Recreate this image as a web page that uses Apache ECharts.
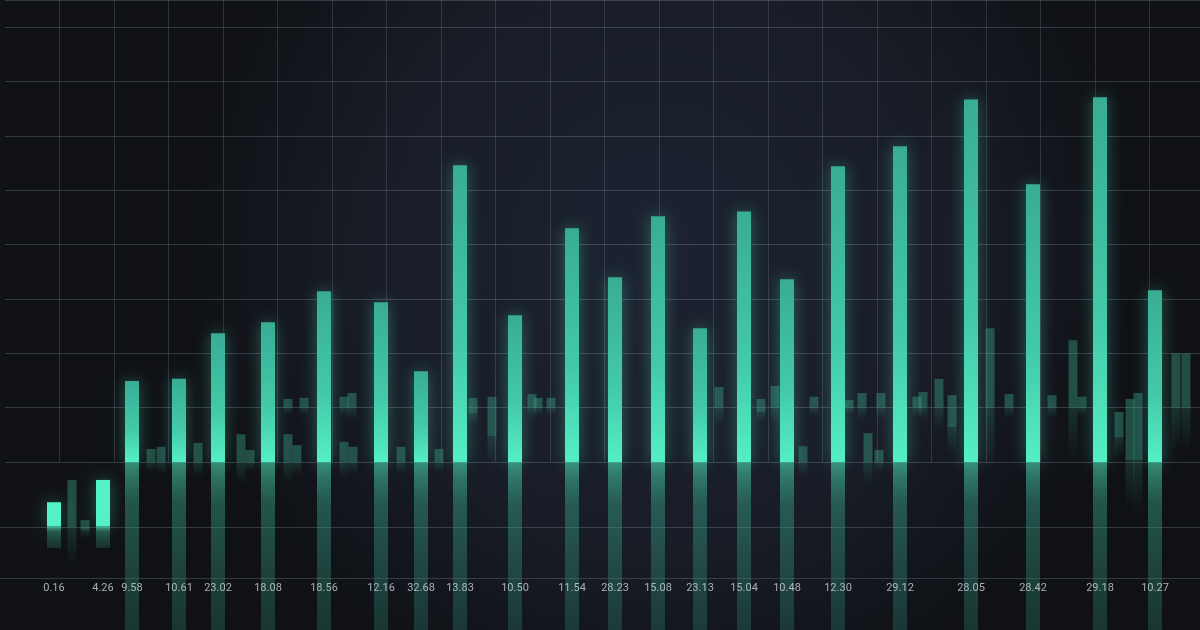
<!DOCTYPE html>
<html>
<head>
<meta charset="utf-8">
<script src="https://cdn.jsdelivr.net/npm/echarts@6/dist/echarts.min.js"></script>
<style>
  html, body { margin: 0; padding: 0; background: #12151b; }
  #chart { width: 1200px; height: 630px; }
</style>
</head>
<body>
<div id="chart"></div>
<script>
// main bars: position on the time axis, base value, top value, label
var barTime  = [4.9, 9.8, 12.7, 17.4, 21.3, 26.3, 31.9, 37.6, 41.6, 45.5, 51.0, 56.7,
                61.0, 65.3, 69.5, 73.9, 78.2, 83.3, 89.5, 96.6, 102.8, 109.5, 115.0];
var barBase  = [-1.18, -1.18, 0, 0, 0, 0, 0, 0, 0, 0, 0, 0,
                0, 0, 0, 0, 0, 0, 0, 0, 0, 0, 0];
var barValue = [-0.74, -0.33, 1.49, 1.53, 2.37, 2.57, 3.14, 2.94, 1.67, 5.46, 2.70, 4.30,
                3.40, 4.52, 2.46, 4.61, 3.36, 5.44, 5.81, 6.67, 5.11, 6.71, 3.16];
var barLabels = ['0.16', '4.26', '9.58', '10.61', '23.02', '18.08', '18.56', '12.16', '32.68', '13.83', '10.50', '11.54',
                 '28.23', '15.08', '23.13', '15.04', '10.48', '12.30', '29.12', '28.05', '28.42', '29.18', '10.27'];

// faint background bars: position, low, high
var dimTime = [6.7, 8.0, 14.6, 15.6, 19.3, 23.6, 24.5, 28.3, 29.2, 33.9, 34.8, 39.6, 43.4,
               79.8, 86.3, 87.4,
               28.3, 29.9, 33.9, 34.7, 46.8, 48.7, 52.7, 53.3, 54.6,
               71.4, 75.6, 77.0, 80.9, 84.4, 85.7, 87.6, 91.2, 91.8, 93.4, 94.7, 98.5,
               100.4, 104.7, 106.8, 107.7, 111.4, 112.5, 113.3, 117.1, 118.1];
var dimLow  = [-1.2, -1.25, 0, 0, 0, 0, 0, 0, 0, 0, 0, 0, 0,
               0, 0, 0,
               1, 1, 1, 1, 0.9, 0.48, 1, 1, 1,
               1, 0.92, 1, 1, 1, 1, 1, 1, 1, 1, 0.64, 1,
               1, 1, 1, 1, 0.46, 0.04, 0.04, 1, 1];
var dimHigh = [-0.33, -1.07, 0.24, 0.28, 0.35, 0.51, 0.22, 0.51, 0.31, 0.37, 0.28, 0.28, 0.24,
               0.29, 0.53, 0.22,
               1.16, 1.18, 1.20, 1.27, 1.18, 1.20, 1.25, 1.18, 1.18,
               1.38, 1.16, 1.40, 1.20, 1.14, 1.27, 1.27, 1.20, 1.29, 1.53, 1.23, 2.46,
               1.25, 1.23, 2.24, 1.20, 0.92, 1.16, 1.27, 2.00, 2.00];

var FLOOR = -3.1;     // reflections run down to the bottom edge
var LABEL_Y = -2.32;  // row of the time labels

var mainData = barTime.map(function (t, i) { return [t, barBase[i], barValue[i]]; });
var dimData = dimTime.map(function (t, i) { return [t, dimLow[i], dimHigh[i]]; });

function renderMain(params, api) {
    var t = api.value(0), lo = api.value(1), hi = api.value(2);
    var top = api.coord([t, hi]);
    var bot = api.coord([t, lo]);
    var w = 14;
    var x = top[0] - w / 2;
    var low = lo < 0;
    var floorY = low ? api.coord([t, lo - 0.4])[1] : api.coord([t, FLOOR])[1];
    var labelPos = api.coord([t, LABEL_Y]);
    return {
        type: 'group',
        children: [
            {
                type: 'rect',
                shape: { x: x, y: bot[1], width: w, height: floorY - bot[1] },
                style: {
                    fill: new echarts.graphic.LinearGradient(0, 0, 0, 1, [
                        { offset: 0, color: low ? 'rgba(80,225,185,0.75)' : 'rgba(72,205,168,0.62)' },
                        { offset: 0.25, color: 'rgba(58,165,138,0.45)' },
                        { offset: 1, color: low ? 'rgba(50,140,120,0.25)' : 'rgba(45,130,112,0.32)' }
                    ])
                }
            },
            {
                type: 'rect',
                shape: { x: x, y: top[1], width: w, height: bot[1] - top[1] },
                style: {
                    fill: low ? '#55f2c7' : new echarts.graphic.LinearGradient(0, 0, 0, 1, [
                        { offset: 0, color: '#38ad94' },
                        { offset: 0.6, color: '#43c9a8' },
                        { offset: 1, color: '#55efc5' }
                    ]),
                    shadowBlur: 16,
                    shadowColor: 'rgba(80,235,190,0.35)'
                }
            },
            {
                type: 'text',
                x: labelPos[0],
                y: labelPos[1],
                style: {
                    text: barLabels[params.dataIndex],
                    fill: 'rgba(205,212,218,0.8)',
                    font: '11px Roboto',
                    align: 'center',
                    verticalAlign: 'middle'
                }
            }
        ]
    };
}

function renderDim(params, api) {
    var t = api.value(0), lo = api.value(1), hi = api.value(2);
    var top = api.coord([t, hi]);
    var bot = api.coord([t, lo]);
    var w = 9;
    var x = top[0] - w / 2;
    var h = bot[1] - top[1];
    return {
        type: 'group',
        children: [
            {
                type: 'rect',
                shape: { x: x, y: bot[1], width: w, height: h * 0.8 },
                style: {
                    fill: new echarts.graphic.LinearGradient(0, 0, 0, 1, [
                        { offset: 0, color: 'rgba(60,170,140,0.2)' },
                        { offset: 1, color: 'rgba(60,170,140,0)' }
                    ])
                }
            },
            {
                type: 'rect',
                shape: { x: x, y: top[1], width: w, height: h },
                style: { fill: 'rgba(62,175,145,0.38)' }
            }
        ]
    };
}

var gridColor = 'rgba(160,170,185,0.26)';
var vColors = ['rgba(0,0,0,0)'];
for (var k = 0; k < 40; k++) vColors.push('rgba(150,160,178,0.22)');

var chart = echarts.init(document.getElementById('chart'));
chart.setOption({
    animation: false,
    backgroundColor: {
        type: 'radial', x: 0.55, y: 0.4, r: 0.75,
        colorStops: [
            { offset: 0, color: '#1c2231' },
            { offset: 0.6, color: '#181d27' },
            { offset: 1, color: '#0f1115' }
        ]
    },
    grid: [
        { left: 5, right: 0, top: 0, bottom: 168 },   // chart area above the baseline
        { left: 0, right: 0, top: 462, bottom: 0 }    // reflection floor
    ],
    xAxis: [
        {
            type: 'value', gridIndex: 0,
            min: 0, max: 119.5, interval: 5.45,
            axisLine: { show: false }, axisTick: { show: false }, axisLabel: { show: false },
            splitLine: { lineStyle: { color: vColors, width: 1 } }
        },
        {
            type: 'value', gridIndex: 1, min: 0, max: 1,
            axisLine: { show: false }, axisTick: { show: false }, axisLabel: { show: false },
            splitLine: { show: false }
        }
    ],
    yAxis: [
        {
            type: 'value', gridIndex: 0,
            min: 0, max: 8.5, interval: 1,
            axisLine: { show: false }, axisTick: { show: false }, axisLabel: { show: false },
            splitLine: { lineStyle: { color: gridColor, width: 1 } }
        },
        {
            type: 'value', gridIndex: 1,
            min: 0, max: 168, interval: 51.5,
            axisLine: { show: false }, axisTick: { show: false }, axisLabel: { show: false },
            splitLine: { lineStyle: { color: ['rgba(0,0,0,0)', gridColor, gridColor, 'rgba(0,0,0,0)', 'rgba(0,0,0,0)'], width: 1 } }
        }
    ],
    series: [
        {
            type: 'custom',
            name: 'dim',
            xAxisIndex: 0, yAxisIndex: 0,
            renderItem: renderDim,
            encode: { x: 0, y: [1, 2] },
            clip: false,
            data: dimData
        },
        {
            type: 'custom',
            name: 'main',
            xAxisIndex: 0, yAxisIndex: 0,
            renderItem: renderMain,
            encode: { x: 0, y: [1, 2] },
            clip: false,
            data: mainData
        }
    ]
});
</script>
</body>
</html>
